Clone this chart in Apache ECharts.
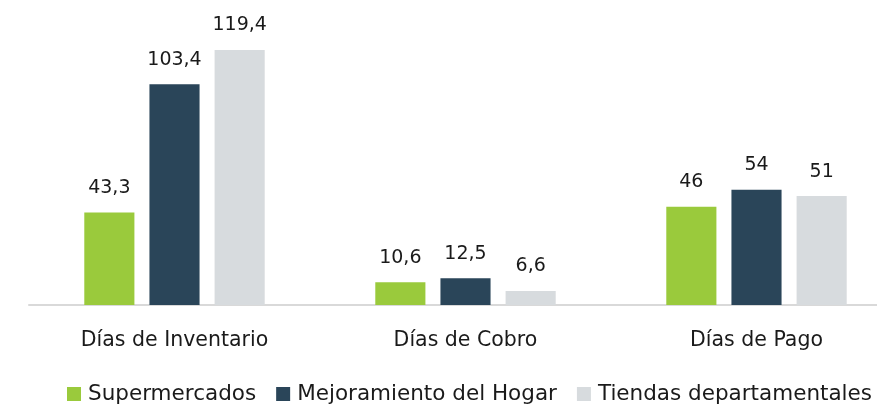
<!DOCTYPE html>
<html>
<head>
<meta charset="utf-8">
<script src="https://cdn.jsdelivr.net/npm/echarts@6/dist/echarts.min.js"></script>
<style>
  html, body { margin: 0; padding: 0; background: #fff; }
  #chart { width: 877px; height: 405px; }
</style>
</head>
<body>
<div id="chart"></div>
<script>
const categories = ['Días de Inventario', 'Días de Cobro', 'Días de Pago'];
const seriesNames = ['Supermercados', 'Mejoramiento del Hogar', 'Tiendas departamentales'];
const supermercados = [43.3, 10.6, 46];
const hogar = [103.4, 12.5, 54];
const tiendas = [119.4, 6.6, 51];

const colors = ['#9aca3c', '#2a4559', '#d7dbde'];
const font = '"DejaVu Sans", sans-serif';

const chart = echarts.init(document.getElementById('chart'));

function makeSeries(name, data, color) {
  return {
    name: name,
    type: 'bar',
    data: data,
    barGap: '30%',
    barCategoryGap: '38%',
    itemStyle: { color: color },
    label: {
      show: true,
      position: 'top',
      distance: 15,
      color: '#1a1a1a',
      fontFamily: font,
      fontSize: 19,
      formatter: p => String(p.value).replace('.', ',')
    }
  };
}

chart.setOption({
  animation: false,
  color: colors,
  // grid runs past the right edge, as in the reference
  grid: { left: 29, width: 873, top: 0, bottom: 100, outerBoundsMode: 'none' },
  legend: {
    left: 67,
    top: 383,
    padding: 0,
    itemWidth: 14,
    itemHeight: 14,
    itemGap: 20,
    icon: 'rect',
    textStyle: { fontFamily: font, fontSize: 21.5, color: '#1a1a1a', padding: [0, 0, 0, 2] },
    data: seriesNames
  },
  xAxis: {
    type: 'category',
    data: categories,
    axisLine: { lineStyle: { color: '#d9d9d9', width: 2 } },
    axisTick: { show: false },
    axisLabel: { margin: 25, color: '#1a1a1a', fontFamily: font, fontSize: 20.5 }
  },
  yAxis: {
    type: 'value',
    min: 0,
    max: 142.8,
    show: false,
    splitLine: { show: false }
  },
  series: [
    makeSeries(seriesNames[0], supermercados, colors[0]),
    makeSeries(seriesNames[1], hogar, colors[1]),
    makeSeries(seriesNames[2], tiendas, colors[2])
  ]
});
</script>
</body>
</html>
